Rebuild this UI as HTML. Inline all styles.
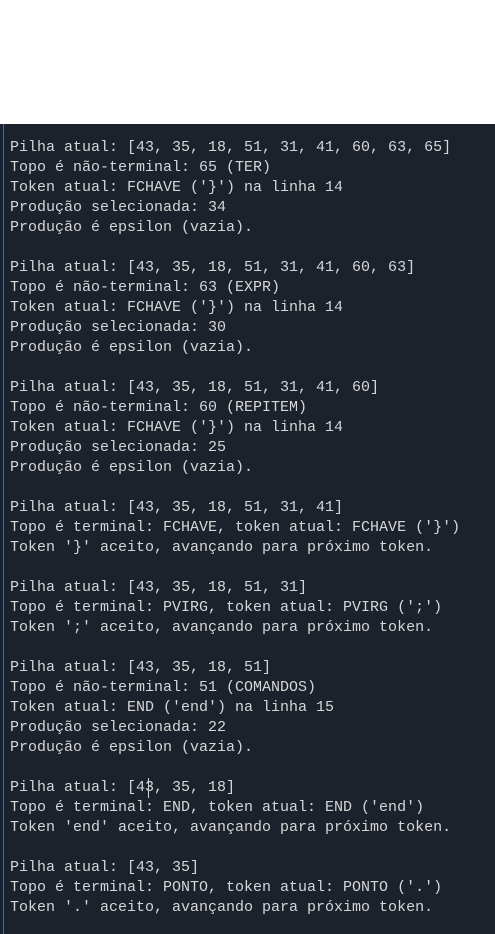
<!DOCTYPE html>
<html><head><meta charset="utf-8"><style>
html,body{margin:0;padding:0;width:495px;height:934px;background:#fff;overflow:hidden}
#term{position:absolute;left:0;top:124px;width:495px;height:810px;background:#1b222c}
#bar{position:absolute;left:3px;top:124px;width:1px;height:810px;background:#3f6aa0}
pre{position:absolute;left:10px;top:138px;margin:0;font-family:"Liberation Mono",monospace;font-size:15px;line-height:20px;color:#d6d6d6}
#cur{position:absolute;left:148px;top:778px;width:1px;height:20px;background:#d6d6d6}
</style></head><body>
<div id="term"></div><div id="bar"></div>
<pre>Pilha atual: [43, 35, 18, 51, 31, 41, 60, 63, 65]
Topo é não-terminal: 65 (TER)
Token atual: FCHAVE ('}') na linha 14
Produção selecionada: 34
Produção é epsilon (vazia).

Pilha atual: [43, 35, 18, 51, 31, 41, 60, 63]
Topo é não-terminal: 63 (EXPR)
Token atual: FCHAVE ('}') na linha 14
Produção selecionada: 30
Produção é epsilon (vazia).

Pilha atual: [43, 35, 18, 51, 31, 41, 60]
Topo é não-terminal: 60 (REPITEM)
Token atual: FCHAVE ('}') na linha 14
Produção selecionada: 25
Produção é epsilon (vazia).

Pilha atual: [43, 35, 18, 51, 31, 41]
Topo é terminal: FCHAVE, token atual: FCHAVE ('}')
Token '}' aceito, avançando para próximo token.

Pilha atual: [43, 35, 18, 51, 31]
Topo é terminal: PVIRG, token atual: PVIRG (';')
Token ';' aceito, avançando para próximo token.

Pilha atual: [43, 35, 18, 51]
Topo é não-terminal: 51 (COMANDOS)
Token atual: END ('end') na linha 15
Produção selecionada: 22
Produção é epsilon (vazia).

Pilha atual: [43, 35, 18]
Topo é terminal: END, token atual: END ('end')
Token 'end' aceito, avançando para próximo token.

Pilha atual: [43, 35]
Topo é terminal: PONTO, token atual: PONTO ('.')
Token '.' aceito, avançando para próximo token.</pre>
<div id="cur"></div>
</body></html>
